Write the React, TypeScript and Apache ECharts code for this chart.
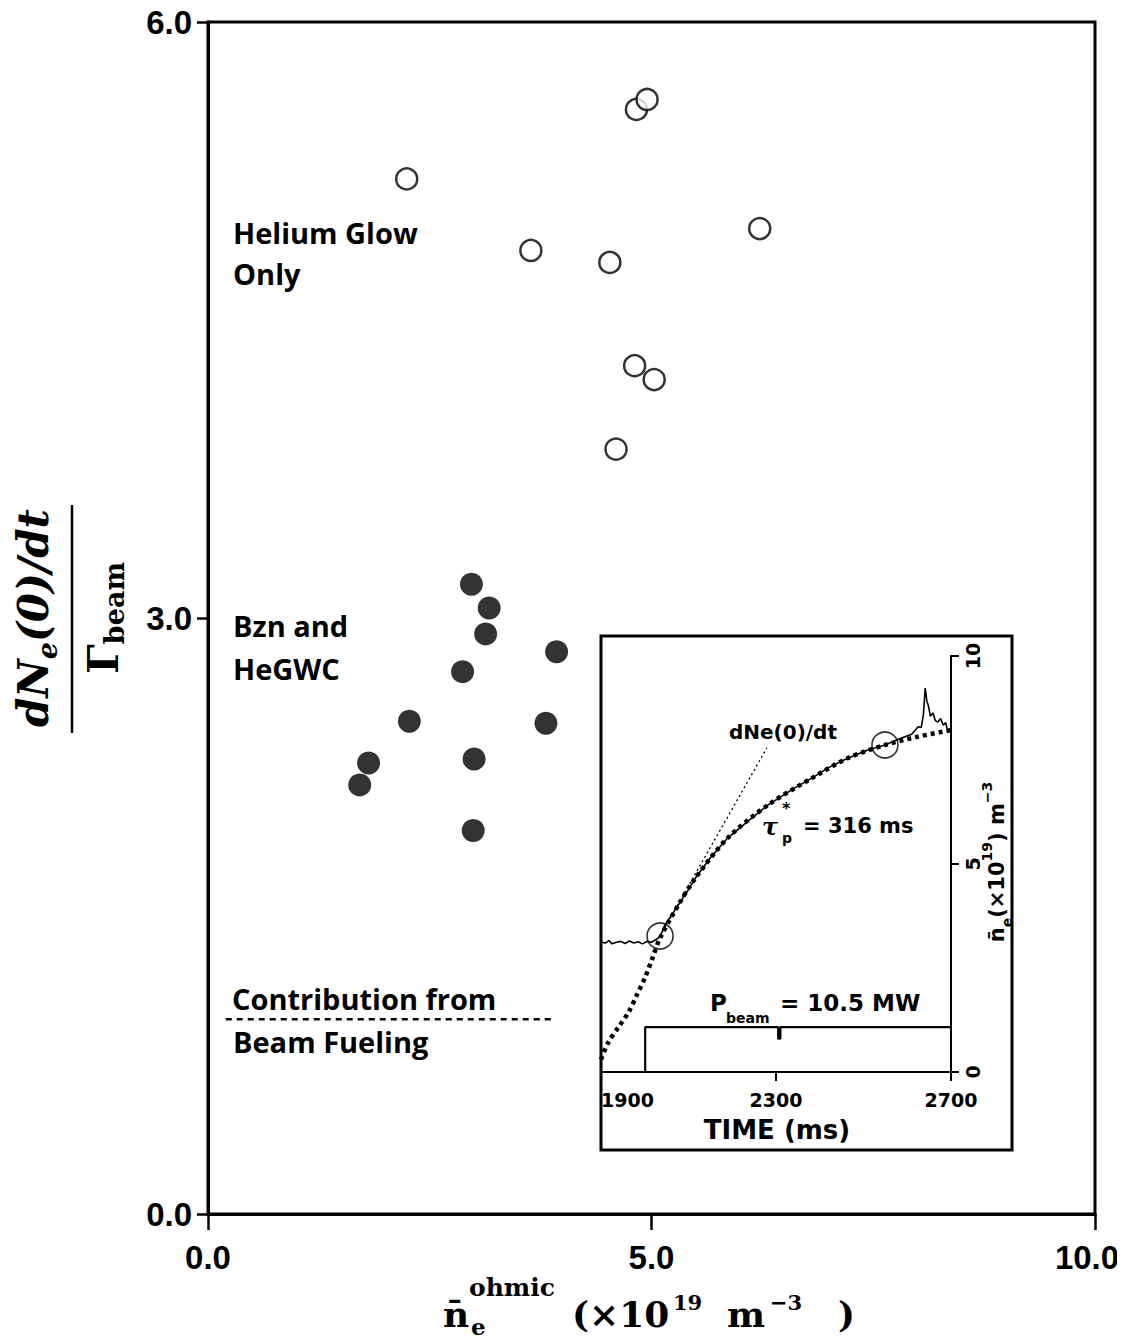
import React, { useEffect, useRef } from "react";
import * as echarts from "echarts";

// ---- Main chart data ----
const heliumGlowX = [2.24, 4.83, 4.95, 3.64, 4.53, 6.22, 4.81, 5.03, 4.6];
const heliumGlowY = [5.21, 5.56, 5.61, 4.85, 4.79, 4.96, 4.27, 4.2, 3.85];
const bznHeGWCX = [2.97, 3.17, 3.13, 3.93, 2.87, 2.27, 3.81, 1.81, 1.71, 3.0, 2.99];
const bznHeGWCY = [3.17, 3.05, 2.92, 2.83, 2.73, 2.48, 2.47, 2.27, 2.16, 2.29, 1.93];
const beamFuelingX = [0.2, 3.88];
const beamFuelingY = [0.98, 0.98];
const mainXTicks = [0, 5, 10];
const mainYTicks = [0, 3, 6];

// ---- Inset data (time in ms, density in 1e19 m^-3) ----
const traceTime = [1900, 1910, 1918, 1925, 1935, 1945, 1955, 1965, 1975, 1985, 1995, 2005, 2015, 2025, 2035, 2046, 2060, 2076, 2095, 2115, 2150, 2190, 2245, 2282, 2343, 2383, 2419, 2465, 2510, 2549, 2587, 2610, 2625, 2632, 2637, 2641, 2645, 2648, 2653, 2659, 2664, 2670, 2676, 2682, 2688, 2693, 2700];
const traceDensity = [3.12, 3.1, 3.16, 3.08, 3.12, 3.14, 3.09, 3.15, 3.1, 3.13, 3.08, 3.14, 3.12, 3.18, 3.25, 3.53, 3.75, 4.0, 4.3, 4.65, 5.15, 5.63, 6.11, 6.42, 6.83, 7.07, 7.31, 7.55, 7.74, 7.86, 8.03, 8.12, 8.3, 8.28, 8.6, 9.23, 8.9, 8.82, 8.55, 8.63, 8.45, 8.41, 8.5, 8.34, 8.4, 8.17, 8.25];
const fitTime = [1900, 1916, 1940, 1962, 1982, 2001, 2018, 2035, 2076, 2115, 2190, 2282, 2383, 2465, 2549, 2620, 2700];
const fitDensity = [0.3, 0.7, 1.08, 1.42, 1.85, 2.28, 2.75, 3.22, 4.0, 4.65, 5.63, 6.42, 7.07, 7.55, 7.86, 8.05, 8.22];
const tangentTime = [2035, 2279];
const tangentDensity = [3.27, 7.79];
const beamTime = [1900, 2001, 2001, 2305, 2305, 2310, 2310, 2700];
const beamLevel = [0, 0, 1.08, 1.08, 0.8, 0.8, 1.08, 1.08];
const markTime = [2035, 2549];
const markDensity = [3.27, 7.86];
const insetXTicks = [1900, 2300, 2700];
const insetYTicks = [0, 5, 10];

const zip = (a: number[], b: number[]) => a.map((v, i) => [v, b[i]]);

const tickFont = "'Liberation Sans', Arial, sans-serif";
const anno = "'Open Sans', 'DejaVu Sans', sans-serif";
const insetFont = "'DejaVu Sans', sans-serif";
const serif = "'DejaVu Serif', 'Liberation Serif', serif";

export default function App() {
  const ref = useRef<HTMLDivElement>(null);
  useEffect(() => {
    if (!ref.current) return;
    const chart = echarts.init(ref.current, undefined, { renderer: "svg" });

    const annoText = (text: string, x: number, y: number) => ({
      type: "text",
      x,
      y,
      style: {
        text,
        fill: "#000",
        font: `bold 29px ${anno}`,
        align: "left",
        verticalAlign: "middle",
      },
    });
    const insetText = (text: string, x: number, y: number, size: number, align = "left", weight = "bold", family = insetFont) => ({
      type: "text",
      x,
      y,
      style: {
        text,
        fill: "#000",
        font: `${weight} ${size}px ${family}`,
        align,
        verticalAlign: "middle",
      },
    });

    const xMax = mainXTicks[mainXTicks.length - 1];

    const option: any = {
      animation: false,
      backgroundColor: "#fff",
      grid: [
        {
          left: 208,
          top: 22,
          width: 887,
          height: 1192,
          show: true,
          borderColor: "#000",
          borderWidth: 3,
          backgroundColor: "transparent",
          outerBoundsMode: "none",
        },
        {
          left: 601,
          top: 656,
          width: 350,
          height: 416,
          show: false,
          outerBoundsMode: "none",
        },
      ],
      xAxis: [
        {
          type: "value",
          gridIndex: 0,
          min: mainXTicks[0],
          max: xMax,
          interval: mainXTicks[1] - mainXTicks[0],
          axisLine: { lineStyle: { color: "#000", width: 3 } },
          axisTick: { show: true, inside: false, length: 16, lineStyle: { color: "#000", width: 2.5 } },
          axisLabel: {
            color: "#000",
            fontFamily: tickFont,
            fontWeight: "bold",
            fontSize: 33,
            margin: 27,
            formatter: (v: number) => (v === xMax ? `{r|${v.toFixed(1)}}` : v.toFixed(1)),
            rich: {
              r: { fontFamily: tickFont, fontWeight: "bold", fontSize: 33, color: "#000", padding: [0, 16, 0, 0] },
            },
          },
          splitLine: { show: false },
        },
        {
          type: "value",
          gridIndex: 1,
          min: insetXTicks[0],
          max: insetXTicks[insetXTicks.length - 1],
          interval: insetXTicks[1] - insetXTicks[0],
          axisLine: { lineStyle: { color: "#000", width: 2 } },
          axisTick: { show: true, inside: false, length: 9, lineStyle: { color: "#000", width: 2 } },
          axisLabel: {
            color: "#000",
            fontFamily: insetFont,
            fontWeight: "bold",
            fontSize: 19,
            margin: 18,
            alignMinLabel: "left",
            formatter: (v: number) => String(v),
          },
          splitLine: { show: false },
        },
      ],
      yAxis: [
        {
          type: "value",
          gridIndex: 0,
          min: mainYTicks[0],
          max: mainYTicks[mainYTicks.length - 1],
          interval: mainYTicks[1] - mainYTicks[0],
          axisLine: { lineStyle: { color: "#000", width: 3 } },
          axisTick: { show: true, inside: false, length: 11, lineStyle: { color: "#000", width: 2.5 } },
          axisLabel: {
            color: "#000",
            fontFamily: tickFont,
            fontWeight: "bold",
            fontSize: 33,
            margin: 16,
            formatter: (v: number) => v.toFixed(1),
          },
          splitLine: { show: false },
        },
        {
          type: "value",
          gridIndex: 1,
          position: "right",
          min: insetYTicks[0],
          max: insetYTicks[insetYTicks.length - 1],
          interval: insetYTicks[1] - insetYTicks[0],
          axisLine: { show: true, lineStyle: { color: "#000", width: 2 } },
          axisTick: { show: true, inside: false, length: 8, lineStyle: { color: "#000", width: 2 } },
          axisLabel: {
            color: "#000",
            fontFamily: insetFont,
            fontWeight: "bold",
            fontSize: 19,
            margin: 12,
            rotate: 90,
            formatter: (v: number) => String(v),
          },
          splitLine: { show: false },
        },
      ],
      series: [
        {
          type: "scatter",
          name: "Helium Glow Only",
          xAxisIndex: 0,
          yAxisIndex: 0,
          data: zip(heliumGlowX, heliumGlowY),
          symbol: "circle",
          symbolSize: 21,
          itemStyle: { color: "#fff", borderColor: "#000", borderWidth: 2.5 },
          z: 3,
        },
        {
          type: "scatter",
          name: "Bzn and HeGWC",
          xAxisIndex: 0,
          yAxisIndex: 0,
          data: zip(bznHeGWCX, bznHeGWCY),
          symbol: "circle",
          symbolSize: 23,
          itemStyle: { color: "#000" },
          z: 3,
        },
        {
          type: "line",
          name: "Contribution from Beam Fueling",
          xAxisIndex: 0,
          yAxisIndex: 0,
          data: zip(beamFuelingX, beamFuelingY),
          symbol: "none",
          lineStyle: { color: "#000", width: 2.5, type: [6, 5] },
        },
        {
          type: "line",
          name: "density trace",
          xAxisIndex: 1,
          yAxisIndex: 1,
          data: zip(traceTime, traceDensity),
          symbol: "none",
          lineStyle: { color: "#000", width: 1.6 },
        },
        {
          type: "line",
          name: "fit",
          xAxisIndex: 1,
          yAxisIndex: 1,
          data: zip(fitTime, fitDensity),
          symbol: "none",
          smooth: 0.3,
          lineStyle: { color: "#000", width: 4.5, type: [4, 4] },
        },
        {
          type: "line",
          name: "tangent",
          xAxisIndex: 1,
          yAxisIndex: 1,
          data: zip(tangentTime, tangentDensity),
          symbol: "none",
          lineStyle: { color: "#000", width: 1.3, type: [2, 3] },
        },
        {
          type: "line",
          name: "beam power",
          xAxisIndex: 1,
          yAxisIndex: 1,
          data: zip(beamTime, beamLevel),
          symbol: "none",
          lineStyle: { color: "#000", width: 2.2 },
        },
        {
          type: "scatter",
          name: "fit points",
          xAxisIndex: 1,
          yAxisIndex: 1,
          data: zip(markTime, markDensity),
          symbol: "circle",
          symbolSize: 26,
          itemStyle: { color: "rgba(0,0,0,0)", borderColor: "#000", borderWidth: 1.6 },
          z: 4,
        },
      ],
      graphic: [
        // main annotations
        annoText("Helium Glow", 233, 232),
        annoText("Only", 233, 273),
        annoText("Bzn and", 233, 625),
        annoText("HeGWC", 233, 668),
        annoText("Contribution from", 232, 998),
        annoText("Beam Fueling", 233, 1041),
        // y-axis title (fraction)
        {
          type: "text",
          x: 33,
          y: 618,
          rotation: Math.PI / 2,
          style: {
            text: "{m|dN}{s|e}{m|(0)/dt}",
            align: "center",
            verticalAlign: "middle",
            fill: "#000",
            rich: {
              m: { font: `italic bold 42px ${serif}`, lineHeight: 56, verticalAlign: "middle", fill: "#000" },
              s: { font: `italic bold 27px ${serif}`, lineHeight: 34, verticalAlign: "bottom", fill: "#000" },
            },
          },
        },
        {
          type: "line",
          shape: { x1: 72, y1: 505, x2: 72, y2: 733 },
          style: { stroke: "#000", lineWidth: 2.5 },
        },
        {
          type: "text",
          x: 103,
          y: 618,
          rotation: Math.PI / 2,
          style: {
            text: "{g|Γ}{b|beam}",
            align: "center",
            verticalAlign: "middle",
            fill: "#000",
            rich: {
              g: { font: `bold 42px ${serif}`, lineHeight: 50, verticalAlign: "middle", fill: "#000" },
              b: { font: `bold 27px ${serif}`, lineHeight: 22, verticalAlign: "bottom", fill: "#000" },
            },
          },
        },
        // x-axis title
        insetText("n\u0304", 443, 1314, 36, "left", "bold", serif),
        insetText("ohmic", 469, 1287, 25, "left", "bold", serif),
        insetText("e", 471, 1326, 23, "left", "bold", serif),
        insetText("(\u00d710", 572, 1314, 36, "left", "bold", serif),
        insetText("19", 673, 1302, 21, "left", "bold", serif),
        insetText("m", 727, 1314, 36, "left", "bold", serif),
        insetText("\u22123", 770, 1302, 21, "left", "bold", serif),
        insetText(")", 838, 1314, 36, "left", "bold", serif),
        // inset box
        {
          type: "rect",
          shape: { x: 601, y: 636, width: 411, height: 514 },
          style: { stroke: "#000", lineWidth: 3, fill: "none" },
        },
        // inset annotations
        insetText("dNe(0)/dt", 783, 732, 20, "center", "bold"),
        insetText("τ", 762, 826, 24, "left", "italic bold", serif),
        insetText("p", 782, 838, 14, "left", "bold"),
        insetText("*", 782, 808, 16, "left", "bold"),
        insetText("= 316 ms", 803, 826, 21, "left", "bold"),
        insetText("P", 710, 1003, 23, "left", "bold"),
        insetText("beam", 726, 1018, 14, "left", "bold"),
        insetText("= 10.5 MW", 780, 1003, 23, "left", "bold"),
        insetText("TIME (ms)", 777, 1130, 26, "center", "bold"),
        {
          type: "text",
          x: 997,
          y: 862,
          rotation: Math.PI / 2,
          style: {
            text: "{n|n\u0304}{sub|e}{n|(×10}{sup|19}{n|) m}{sup|−3}",
            align: "center",
            verticalAlign: "middle",
            fill: "#000",
            rich: {
              n: { font: `bold 21px ${insetFont}`, lineHeight: 34, verticalAlign: "middle", fill: "#000" },
              sub: { font: `bold 14px ${insetFont}`, lineHeight: 14, verticalAlign: "bottom", fill: "#000" },
              sup: { font: `bold 14px ${insetFont}`, lineHeight: 14, verticalAlign: "top", fill: "#000" },
            },
          },
        },
      ],
    };

    chart.setOption(option);
    return () => chart.dispose();
  }, []);

  return <div ref={ref} style={{ width: 1125, height: 1343, margin: -8 }} />;
}
